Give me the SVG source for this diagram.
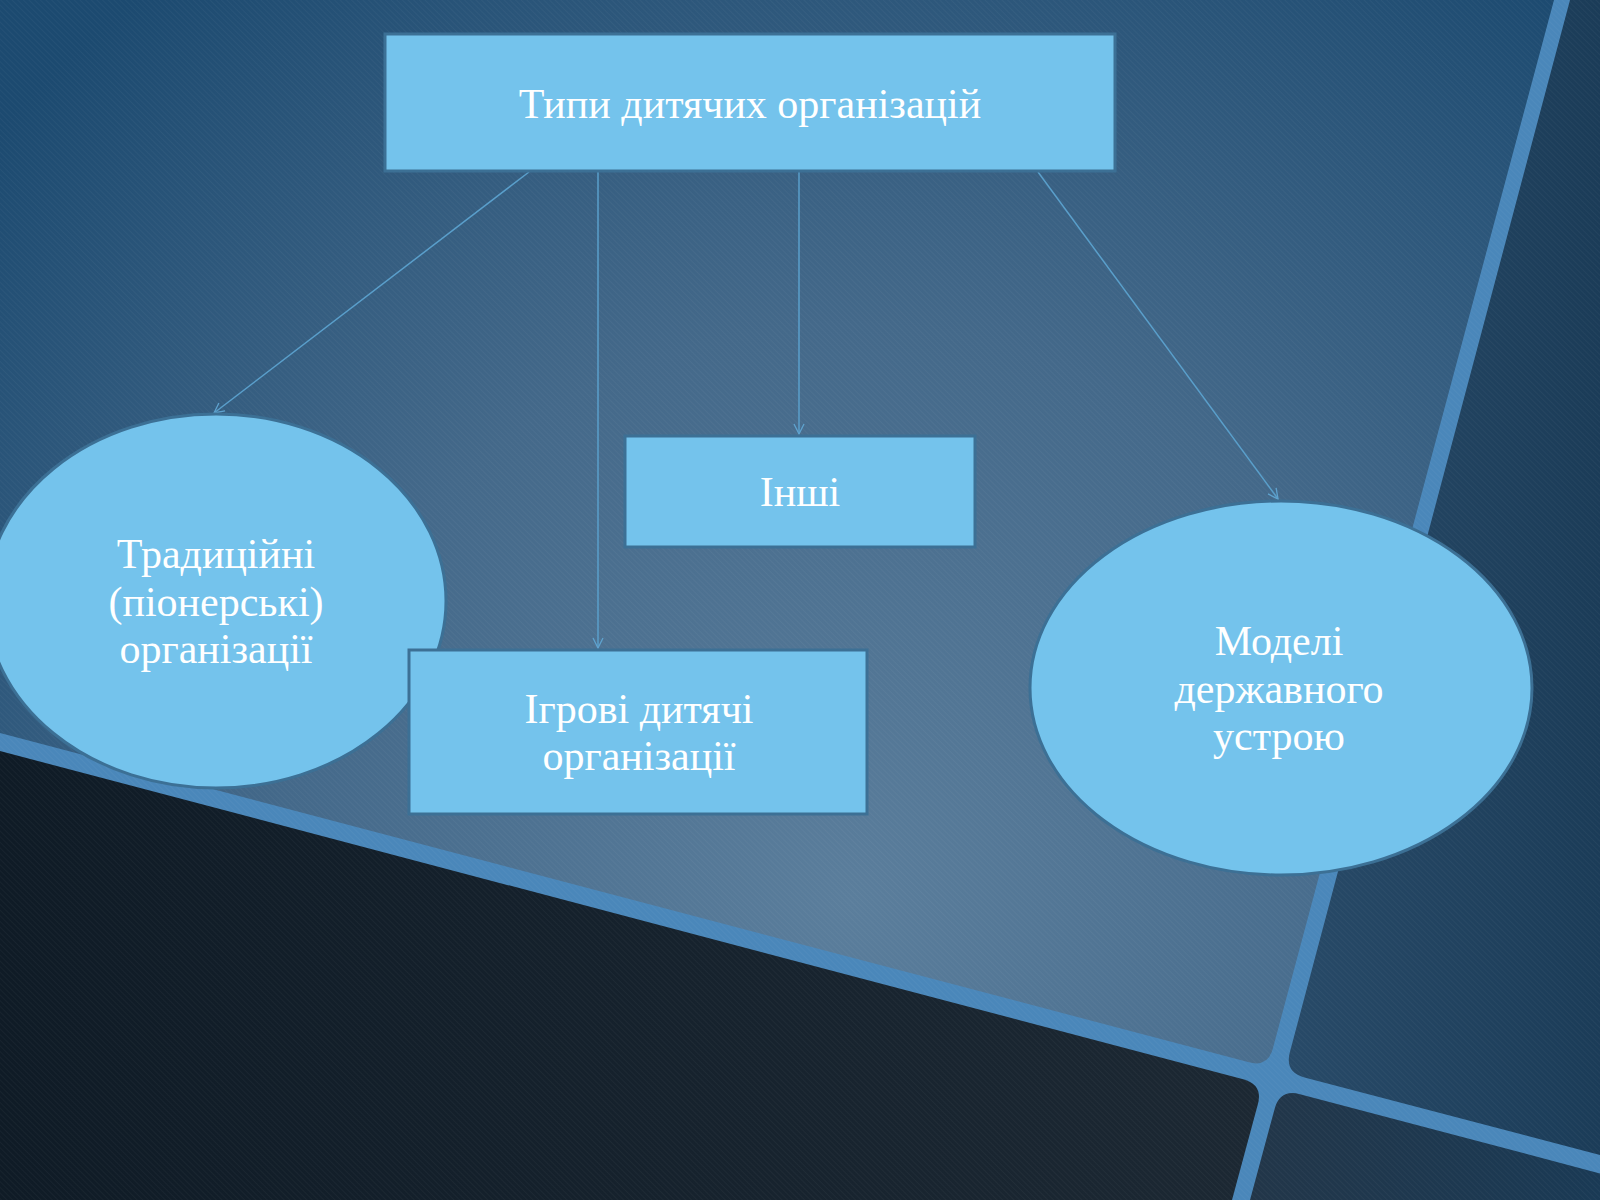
<svg xmlns="http://www.w3.org/2000/svg" width="1600" height="1200" viewBox="0 0 1600 1200">
  <defs>
    <radialGradient id="gMain" cx="850" cy="900" r="1150" gradientUnits="userSpaceOnUse">
      <stop offset="0" stop-color="#5b7e9c"/>
      <stop offset="0.5" stop-color="#44698a"/>
      <stop offset="1" stop-color="#1c4a70"/>
    </radialGradient>
    <linearGradient id="gRight" x1="0" y1="0" x2="1" y2="0">
      <stop offset="0" stop-color="#284a68"/>
      <stop offset="1" stop-color="#1b3c58"/>
    </linearGradient>
    <linearGradient id="gBL" x1="0" y1="0" x2="1" y2="0">
      <stop offset="0" stop-color="#0f1b26"/>
      <stop offset="1" stop-color="#1c2833"/>
    </linearGradient>
    <linearGradient id="gBR" x1="0" y1="0" x2="1" y2="0">
      <stop offset="0" stop-color="#223649"/>
      <stop offset="1" stop-color="#1a3a55"/>
    </linearGradient>
    <pattern id="hatch" width="4" height="4" patternUnits="userSpaceOnUse" patternTransform="rotate(-45)">
      <line x1="0" y1="0" x2="0" y2="4" stroke="#ffffff" stroke-width="1" stroke-opacity="0.07"/>
    </pattern>
    <marker id="arr" viewBox="0 0 12 12" refX="11" refY="6" markerWidth="12" markerHeight="12" markerUnits="userSpaceOnUse" orient="auto">
      <path d="M1,1 L11,6 L1,11" fill="none" stroke="#5fa3cf" stroke-width="1.3"/>
    </marker>
    <style>
      .node { fill: #74c3ec; stroke: #3c7095; stroke-width: 3; }
      .lbl { font-family: "Liberation Serif", "DejaVu Serif", serif; font-size: 42px; fill: #ffffff; text-anchor: middle; }
      .conn { stroke: #5a9fcb; stroke-width: 1.5; fill: none; marker-end: url(#arr); }
    </style>
  </defs>

  <g id="background">
    <rect x="0" y="0" width="1600" height="1200" fill="#4a87ba"/>
    <path d="M0,0 L1554,0 L1273,1048 Q1268,1068 1248,1062 L0,733 Z" fill="url(#gMain)"/>
    <path d="M1570,0 L1600,0 L1600,1155 L1304.5,1077.4 Q1284.5,1072.1 1289.9,1052.1 Z" fill="url(#gRight)"/>
    <path d="M0,751 L1243.2,1079.2 Q1263.2,1084.5 1257.8,1104.5 L1232,1200 L0,1200 Z" fill="url(#gBL)"/>
    <path d="M1300,1094.2 L1600,1173.4 L1600,1200 L1250,1200 L1274.6,1108.9 Q1280,1088.9 1300,1094.2 Z" fill="url(#gBR)"/>
    <rect x="0" y="0" width="1600" height="1200" fill="url(#hatch)"/>
  </g>

  <g id="connectors">
    <line class="conn" x1="529" y1="172" x2="214" y2="413"/>
    <line class="conn" x1="598" y1="172" x2="598" y2="648"/>
    <line class="conn" x1="799" y1="172" x2="799" y2="434"/>
    <line class="conn" x1="1038" y1="172" x2="1278" y2="499"/>
  </g>

  <g id="node-top">
    <rect class="node" x="385" y="34" width="730" height="137"/>
    <text class="lbl" x="750" y="118">Типи дитячих організацій</text>
  </g>

  <g id="node-traditional">
    <ellipse class="node" cx="216" cy="601" rx="230" ry="187"/>
    <text class="lbl" x="216" y="568">Традиційні</text>
    <text class="lbl" x="216" y="616">(піонерські)</text>
    <text class="lbl" x="216" y="663">організації</text>
  </g>

  <g id="node-other">
    <rect class="node" x="625" y="436" width="350" height="111"/>
    <text class="lbl" x="800" y="506">Інші</text>
  </g>

  <g id="node-game">
    <rect class="node" x="409" y="650" width="458" height="164"/>
    <text class="lbl" x="639" y="723">Ігрові дитячі</text>
    <text class="lbl" x="639" y="770">організації</text>
  </g>

  <g id="node-models">
    <ellipse class="node" cx="1281" cy="688" rx="251" ry="187"/>
    <text class="lbl" x="1279" y="655">Моделі</text>
    <text class="lbl" x="1279" y="703">державного</text>
    <text class="lbl" x="1279" y="750">устрою</text>
  </g>
</svg>
